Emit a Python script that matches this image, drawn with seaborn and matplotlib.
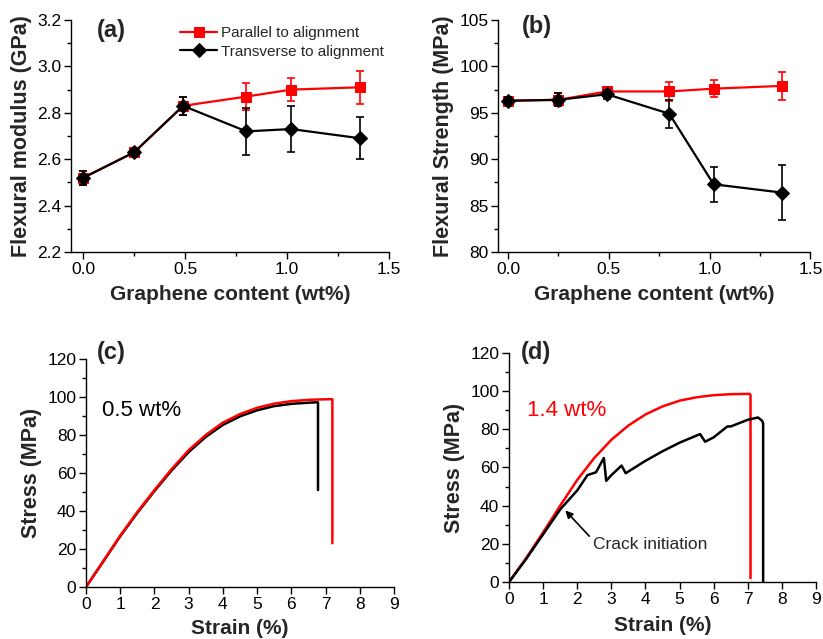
import numpy as np
import pandas as pd
import matplotlib
matplotlib.use("Agg")
import matplotlib.pyplot as plt
import seaborn as sns
from matplotlib.ticker import MultipleLocator, FormatStrFormatter

# ---------------- data ----------------
content = [0.0, 0.25, 0.49, 0.80, 1.02, 1.36]

mod_par = [2.52, 2.63, 2.83, 2.87, 2.90, 2.91]
mod_par_err = [0.03, 0.01, 0.04, 0.06, 0.05, 0.07]
mod_tra = [2.52, 2.63, 2.83, 2.72, 2.73, 2.69]
mod_tra_err = [0.03, 0.01, 0.04, 0.10, 0.10, 0.09]

str_par = [96.3, 96.4, 97.3, 97.3, 97.6, 97.9]
str_par_err = [0.4, 0.7, 0.4, 1.0, 0.9, 1.5]
str_tra = [96.3, 96.4, 97.0, 94.9, 87.3, 86.4]
str_tra_err = [0.4, 0.7, 0.5, 1.5, 1.9, 3.0]

# panel (c) 0.5 wt%
c_red_x = [0, 0.5, 1, 1.5, 2, 2.5, 3, 3.5, 4, 4.5, 5, 5.5, 6, 6.5, 7.0, 7.2, 7.2]
c_red_y = [0, 13.5, 27, 39.5, 51, 62, 72, 80, 86.5, 91, 94.3, 96.5, 97.8, 98.5, 98.8, 98.8, 23]
c_blk_x = [0, 0.5, 1, 1.5, 2, 2.5, 3, 3.5, 4, 4.5, 5, 5.5, 6, 6.5, 6.78, 6.78]
c_blk_y = [0, 13.3, 26.7, 39, 50.5, 61.3, 71, 79, 85.3, 89.8, 93, 95.2, 96.4, 97.0, 97.2, 51]

# panel (d) 1.4 wt%
d_red_x = [0, 0.5, 1, 1.5, 2, 2.5, 3, 3.5, 4, 4.5, 5, 5.5, 6, 6.5, 7.05, 7.08, 7.08]
d_red_y = [0, 12.5, 26, 40, 53.5, 65, 74.5, 82, 87.8, 92, 95, 96.8, 97.9, 98.4, 98.6, 98, 2]
d_blk_x = [0, 0.5, 1, 1.5, 1.55, 2.0, 2.3, 2.55, 2.78, 2.85, 3.0, 3.3, 3.42, 4.0, 4.5, 5.0,
           5.6, 5.75, 6.0, 6.4, 6.5, 7.0, 7.3, 7.42, 7.45, 7.45]
d_blk_y = [0, 12, 25, 38, 39, 48, 56, 57.5, 65, 53, 56, 61, 57, 63.5, 68.5, 73,
           77.5, 73.5, 75.8, 81.5, 81.5, 85, 86.2, 84.5, 83, 0]

# ---------------- style ----------------
sns.set_style("ticks")
plt.rcParams['font.family'] = ['Liberation Sans', 'DejaVu Sans']
plt.rcParams['axes.linewidth'] = 1.0
plt.rcParams['xtick.major.size'] = 5
plt.rcParams['ytick.major.size'] = 5
plt.rcParams['xtick.minor.size'] = 3
plt.rcParams['ytick.minor.size'] = 3
plt.rcParams['xtick.color'] = 'black'
plt.rcParams['ytick.color'] = 'black'
plt.rcParams['axes.edgecolor'] = 'black'

RED = '#ff0000'
BLK = '#000000'
TICK_FS = 12.5
XLAB_FS = 15
YLAB_FS = 15.5
PANEL_FS = 17

fig = plt.figure(figsize=(8.23, 6.39), dpi=100)
ax_a = fig.add_axes([0.0863, 0.6056, 0.3864, 0.3631])
ax_b = fig.add_axes([0.6051, 0.6056, 0.3795, 0.3631])
ax_c = fig.add_axes([0.1045, 0.0814, 0.3742, 0.3568])
ax_d = fig.add_axes([0.6185, 0.0892, 0.3730, 0.3584])


def style_axes(ax):
    sns.despine(ax=ax)
    ax.tick_params(axis='both', which='both', direction='out', labelsize=TICK_FS, width=1.0, pad=2)


def point_panel(ax, par, par_err, tra, tra_err, legend=False):
    df = pd.DataFrame({'x': content, 'par': par, 'tra': tra})
    sns.lineplot(data=df, x='x', y='par', ax=ax, color=RED, marker='s', markersize=7.5,
                 markeredgecolor=RED, linewidth=1.6, label='Parallel to alignment', legend=False)
    ax.errorbar(content, par, yerr=par_err, fmt='none', ecolor=RED, elinewidth=1.2, capsize=3, capthick=1.2)
    sns.lineplot(data=df, x='x', y='tra', ax=ax, color=BLK, marker='D', markersize=7,
                 markeredgecolor=BLK, linewidth=1.6, label='Transverse to alignment', legend=False)
    ax.errorbar(content, tra, yerr=tra_err, fmt='none', ecolor=BLK, elinewidth=1.2, capsize=3, capthick=1.2)
    ax.set_xlim(-0.06, 1.5)
    ax.xaxis.set_major_locator(MultipleLocator(0.5))
    ax.xaxis.set_minor_locator(MultipleLocator(0.25))
    ax.xaxis.set_major_formatter(FormatStrFormatter('%.1f'))
    ax.set_xlabel('Graphene content (wt%)', fontsize=XLAB_FS, fontweight='bold', labelpad=6)
    style_axes(ax)
    if legend:
        ax.legend(loc='upper left', bbox_to_anchor=(0.325, 1.0), frameon=False,
                  fontsize=11, handlelength=2.4, handletextpad=0.25, labelspacing=0.3,
                  borderaxespad=0.0)


# (a)
point_panel(ax_a, mod_par, mod_par_err, mod_tra, mod_tra_err, legend=True)
ax_a.set_ylim(2.2, 3.2)
ax_a.yaxis.set_major_locator(MultipleLocator(0.2))
ax_a.yaxis.set_minor_locator(MultipleLocator(0.1))
ax_a.yaxis.set_major_formatter(FormatStrFormatter('%.1f'))
ax_a.set_ylabel('Flexural modulus (GPa)', fontsize=YLAB_FS, fontweight='bold', labelpad=4)
ax_a.text(0.08, 0.955, '(a)', transform=ax_a.transAxes, fontsize=PANEL_FS, fontweight='bold', va='center')

# (b)
point_panel(ax_b, str_par, str_par_err, str_tra, str_tra_err)
ax_b.set_xlim(-0.05, 1.5)
ax_b.set_ylim(80, 105)
ax_b.yaxis.set_major_locator(MultipleLocator(5))
ax_b.yaxis.set_minor_locator(MultipleLocator(2.5))
ax_b.set_ylabel('Flexural Strength (MPa)', fontsize=YLAB_FS, fontweight='bold', labelpad=4)
ax_b.text(0.075, 0.972, '(b)', transform=ax_b.transAxes, fontsize=PANEL_FS, fontweight='bold', va='center')


def curve_axes(ax, xpad=6):
    ax.set_xlim(0, 9)
    ax.set_ylim(0, 120)
    ax.xaxis.set_major_locator(MultipleLocator(1))
    ax.yaxis.set_major_locator(MultipleLocator(20))
    ax.yaxis.set_minor_locator(MultipleLocator(10))
    ax.set_xlabel('Strain (%)', fontsize=XLAB_FS, fontweight='bold', labelpad=xpad)
    ax.set_ylabel('Stress (MPa)', fontsize=YLAB_FS, fontweight='bold', labelpad=4)
    style_axes(ax)


# (c): red drawn on top
sns.lineplot(x=c_blk_x, y=c_blk_y, ax=ax_c, color=BLK, linewidth=1.8, sort=False, estimator=None)
sns.lineplot(x=c_red_x, y=c_red_y, ax=ax_c, color=RED, linewidth=1.8, sort=False, estimator=None)
curve_axes(ax_c, xpad=5)
ax_c.text(0.47, 93, '0.5 wt%', fontsize=16, color=BLK, va='center')
ax_c.text(0.035, 1.03, '(c)', transform=ax_c.transAxes, fontsize=PANEL_FS, fontweight='bold', va='center')

# (d)
sns.lineplot(x=d_red_x, y=d_red_y, ax=ax_d, color=RED, linewidth=1.8, sort=False, estimator=None)
sns.lineplot(x=d_blk_x, y=d_blk_y, ax=ax_d, color=BLK, linewidth=1.8, sort=False, estimator=None)
curve_axes(ax_d, xpad=7)
ax_d.text(0.52, 90, '1.4 wt%', fontsize=16, color=RED, va='center')
ax_d.annotate('Crack initiation', xy=(1.65, 37.5), xytext=(2.45, 19.4), fontsize=12.5, va='center',
              arrowprops=dict(arrowstyle='-|>', color='black', lw=1.2, mutation_scale=11,
                              shrinkA=0, shrinkB=0, relpos=(0.0, 0.85)))
ax_d.text(0.04, 1.0, '(d)', transform=ax_d.transAxes, fontsize=PANEL_FS, fontweight='bold', va='center')

fig.savefig('out.png', dpi=100)
